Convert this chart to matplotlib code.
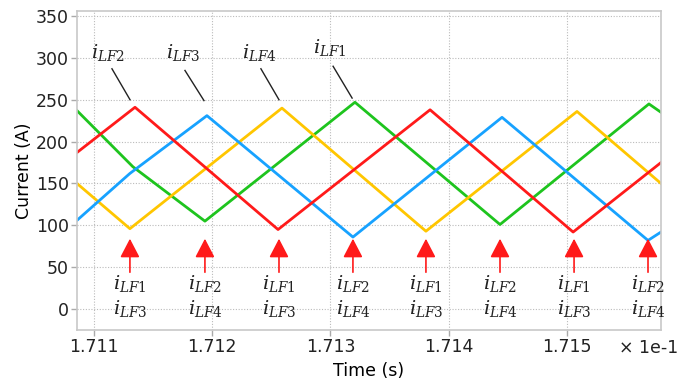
import matplotlib
matplotlib.use("Agg")
import matplotlib.pyplot as plt

plt.rcParams['font.family'] = ['DejaVu Sans Condensed', 'DejaVu Sans']
plt.rcParams['mathtext.fontset'] = 'dejavuserif'

# Data (time in axis units, current in A)
t_red = [1.710854, 1.711345, 1.712556, 1.713843, 1.715054, 1.715798]
i_red = [187, 241, 95, 238, 92, 175]

t_blue = [1.710854, 1.711302, 1.711954, 1.713190, 1.714452, 1.715688, 1.715798]
i_blue = [106, 162, 231, 86, 229, 82, 92]

t_yellow = [1.710854, 1.711302, 1.712589, 1.713808, 1.715087, 1.715798]
i_yellow = [150, 96, 240, 93, 236, 150]

t_green = [1.710854, 1.711327, 1.711937, 1.713207, 1.714435, 1.715696, 1.715798]
i_green = [237, 170, 105, 247, 101, 245, 235]

arrow_t = [1.711302, 1.711937, 1.712564, 1.713190, 1.713808, 1.714435, 1.715062, 1.715688]
arrow_top = ["$i_{LF1}$", "$i_{LF2}$"] * 4
arrow_bot = ["$i_{LF3}$", "$i_{LF4}$"] * 4

top_labels = ["$i_{LF2}$", "$i_{LF3}$", "$i_{LF4}$", "$i_{LF1}$"]
top_label_xy = [(1.711116, 307), (1.711753, 307), (1.712396, 307), (1.712997, 313)]
top_line_from = [(1.711150, 287), (1.711768, 285), (1.712411, 287), (1.713022, 290)]
top_line_to = [(1.711303, 250), (1.711929, 249), (1.712564, 250), (1.713183, 252)]

xticks = [1.711, 1.712, 1.713, 1.714, 1.715]
xticklabels = ["1.711", "1.712", "1.713", "1.714", "1.715"]
yticks = [0, 50, 100, 150, 200, 250, 300, 350]

fig = plt.figure(figsize=(6.93, 3.83), dpi=100)
ax = fig.add_axes([77/693, (383-330)/383, (661-77)/693, (330-11)/383])

lw = 2.0
ax.plot(t_green, i_green, color='#1ec41e', lw=lw, solid_joinstyle='round')
ax.plot(t_yellow, i_yellow, color='#ffc600', lw=lw, solid_joinstyle='round')
ax.plot(t_blue, i_blue, color='#17a2ff', lw=lw, solid_joinstyle='round')
ax.plot(t_red, i_red, color='#ff1a1a', lw=lw, solid_joinstyle='round')

ax.set_xlim(1.710854, 1.715798)
ax.set_ylim(-25, 356)
ax.set_xticks(xticks)
ax.set_xticklabels(xticklabels)
ax.set_yticks(yticks)
ax.tick_params(axis='both', labelsize=12.5, length=4, width=1, color='#aaaaaa',
               pad=2, labelcolor='#222222')
ax.grid(True, linestyle=(0, (1, 1.5)), color='#bbbbbb', lw=0.8)
for s in ax.spines.values():
    s.set_color('#c8c8c8')
    s.set_linewidth(1.2)

ax.set_xlabel("Time (s)", fontsize=12.5, labelpad=4)
ax.set_ylabel("Current (A)", fontsize=12.5, labelpad=2)
fig.text(678/693, 1 - 348/383, "× 1e-1", ha='right', va='center', fontsize=12.5, color='#222222')

for t, a, b in zip(arrow_t, arrow_top, arrow_bot):
    ax.annotate('', xy=(t, 84), xytext=(t, 44),
                arrowprops=dict(arrowstyle='-|>,head_length=1.15,head_width=0.6',
                                mutation_scale=10, color='#ff1a1a', lw=1.2,
                                shrinkA=0, shrinkB=0))
    ax.text(t, 31, a, ha='center', va='center', fontsize=14, color='#222222')
    ax.text(t, 1, b, ha='center', va='center', fontsize=14, color='#222222')

for lab, (tx, ty), p0, p1 in zip(top_labels, top_label_xy, top_line_from, top_line_to):
    ax.text(tx, ty, lab, ha='center', va='center', fontsize=14, color='#222222')
    ax.plot([p0[0], p1[0]], [p0[1], p1[1]], color='#222222', lw=1.0)

fig.savefig("out.png", dpi=100)
